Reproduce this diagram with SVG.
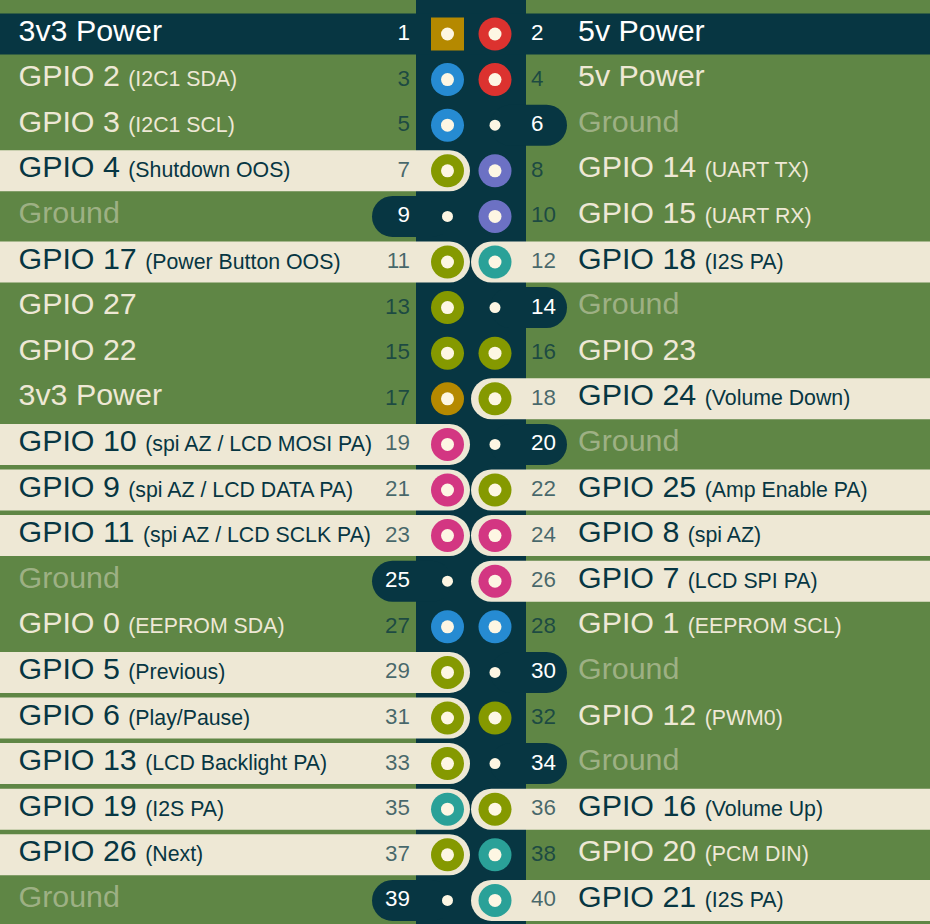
<svg xmlns="http://www.w3.org/2000/svg" width="930" height="924" viewBox="0 0 930 924">
<style>
text{font-family:"Liberation Sans",Arial,sans-serif}
.lbl{font-size:30.4px}
.sub{font-size:21.3px}
.num{font-size:22.4px}
.nl{text-anchor:end}
.bg{fill:#5f8645}
.dk{fill:#073642}
.cr{fill:#eee8d5}
.dot{fill:#fdf6e3}
.g .lbl{fill:#eee8d5}
.g .num{fill:#073642;fill-opacity:.75}
.c .lbl{fill:#073642}
.c .num{fill:#073642;fill-opacity:.72}
.d .lbl,.d .num{fill:#ffffff}
.gnd .lbl{fill:#eee8d5;fill-opacity:.45}
.gnd .num{fill:#ffffff}
.y{fill:#b58900}.r{fill:#dc322f}.b{fill:#268bd2}.v{fill:#6c71c4}.o{fill:#859900}.t{fill:#2aa198}.m{fill:#d33682}
</style>
<rect class="bg" x="0" y="0" width="930" height="924"/>
<rect class="dk" x="416" y="0" width="110" height="924"/>
<g id="connectors"></g>
<!-- Row 1 -->
<g id="pin1" class="d" transform="translate(0,34)">
<rect class="dk" x="0" y="-20.5" width="471" height="41"/>
<rect class="y" x="431" y="-16.5" width="33" height="33"/><circle class="dot" cx="447.5" r="6.5"/>
<text class="num nl" x="410" y="6">1</text>
<text class="lbl" x="18.5" y="6.5">3v3 Power</text>
</g>
<g id="pin2" class="d" transform="translate(0,34)">
<rect class="dk" x="470" y="-20.5" width="460" height="41"/>
<circle class="r" cx="495" r="16.5"/><circle class="dot" cx="495" r="6.5"/>
<text class="num" x="531" y="6">2</text>
<text class="lbl" x="578" y="6.5">5v Power</text>
</g>
<!-- Row 2 -->
<g id="pin3" class="g" transform="translate(0,79.6)">
<circle class="b" cx="447.5" r="16.5"/><circle class="dot" cx="447.5" r="6.5"/>
<text class="num nl" x="410" y="6">3</text>
<text class="lbl" x="18.5" y="6.5">GPIO 2 <tspan class="sub">(I2C1 SDA)</tspan></text>
</g>
<g id="pin4" class="g" transform="translate(0,79.6)">
<circle class="r" cx="495" r="16.5"/><circle class="dot" cx="495" r="6.5"/>
<text class="num" x="531" y="6">4</text>
<text class="lbl" x="578" y="6.5">5v Power</text>
</g>
<!-- Row 3 -->
<g id="pin5" class="g" transform="translate(0,125.2)">
<circle class="b" cx="447.5" r="16.5"/><circle class="dot" cx="447.5" r="6.5"/>
<text class="num nl" x="410" y="6">5</text>
<text class="lbl" x="18.5" y="6.5">GPIO 3 <tspan class="sub">(I2C1 SCL)</tspan></text>
</g>
<g id="pin6" class="gnd" transform="translate(0,125.2)">
<rect class="dk" x="490" y="-20.5" width="77" height="41" rx="20.5"/>
<circle class="dot" cx="495" r="5.5"/>
<text class="num" x="531" y="6">6</text>
<text class="lbl" x="578" y="6.5">Ground</text>
</g>
<!-- Row 4 -->
<g id="pin7" class="c" transform="translate(0,170.8)">
<rect class="cr" x="-30" y="-20.5" width="500" height="41" rx="20.5"/>
<circle class="o" cx="447.5" r="16.5"/><circle class="dot" cx="447.5" r="6.5"/>
<text class="num nl" x="410" y="6">7</text>
<text class="lbl" x="18.5" y="6.5">GPIO 4 <tspan class="sub">(Shutdown OOS)</tspan></text>
</g>
<g id="pin8" class="g" transform="translate(0,170.8)">
<circle class="v" cx="495" r="16.5"/><circle class="dot" cx="495" r="6.5"/>
<text class="num" x="531" y="6">8</text>
<text class="lbl" x="578" y="6.5">GPIO 14 <tspan class="sub">(UART TX)</tspan></text>
</g>
<!-- Row 5 -->
<g id="pin9" class="gnd" transform="translate(0,216.4)">
<rect class="dk" x="372" y="-20.5" width="80" height="41" rx="20.5"/>
<circle class="dot" cx="447.5" r="5.5"/>
<text class="num nl" x="410" y="6">9</text>
<text class="lbl" x="18.5" y="6.5">Ground</text>
</g>
<g id="pin10" class="g" transform="translate(0,216.4)">
<circle class="v" cx="495" r="16.5"/><circle class="dot" cx="495" r="6.5"/>
<text class="num" x="531" y="6">10</text>
<text class="lbl" x="578" y="6.5">GPIO 15 <tspan class="sub">(UART RX)</tspan></text>
</g>
<!-- Row 6 -->
<g id="pin11" class="c" transform="translate(0,262)">
<rect class="cr" x="-30" y="-20.5" width="500" height="41" rx="20.5"/>
<circle class="o" cx="447.5" r="16.5"/><circle class="dot" cx="447.5" r="6.5"/>
<text class="num nl" x="410" y="6">11</text>
<text class="lbl" x="18.5" y="6.5">GPIO 17 <tspan class="sub">(Power Button OOS)</tspan></text>
</g>
<g id="pin12" class="c" transform="translate(0,262)">
<rect class="cr" x="471" y="-20.5" width="500" height="41" rx="20.5"/>
<circle class="t" cx="495" r="16.5"/><circle class="dot" cx="495" r="6.5"/>
<text class="num" x="531" y="6">12</text>
<text class="lbl" x="578" y="6.5">GPIO 18 <tspan class="sub">(I2S PA)</tspan></text>
</g>
<!-- Row 7 -->
<g id="pin13" class="g" transform="translate(0,307.6)">
<circle class="o" cx="447.5" r="16.5"/><circle class="dot" cx="447.5" r="6.5"/>
<text class="num nl" x="410" y="6">13</text>
<text class="lbl" x="18.5" y="6.5">GPIO 27</text>
</g>
<g id="pin14" class="gnd" transform="translate(0,307.6)">
<rect class="dk" x="490" y="-20.5" width="77" height="41" rx="20.5"/>
<circle class="dot" cx="495" r="5.5"/>
<text class="num" x="531" y="6">14</text>
<text class="lbl" x="578" y="6.5">Ground</text>
</g>
<!-- Row 8 -->
<g id="pin15" class="g" transform="translate(0,353.2)">
<circle class="o" cx="447.5" r="16.5"/><circle class="dot" cx="447.5" r="6.5"/>
<text class="num nl" x="410" y="6">15</text>
<text class="lbl" x="18.5" y="6.5">GPIO 22</text>
</g>
<g id="pin16" class="g" transform="translate(0,353.2)">
<circle class="o" cx="495" r="16.5"/><circle class="dot" cx="495" r="6.5"/>
<text class="num" x="531" y="6">16</text>
<text class="lbl" x="578" y="6.5">GPIO 23</text>
</g>
<!-- Row 9 -->
<g id="pin17" class="g" transform="translate(0,398.8)">
<circle class="y" cx="447.5" r="16.5"/><circle class="dot" cx="447.5" r="6.5"/>
<text class="num nl" x="410" y="6">17</text>
<text class="lbl" x="18.5" y="6.5">3v3 Power</text>
</g>
<g id="pin18" class="c" transform="translate(0,398.8)">
<rect class="cr" x="471" y="-20.5" width="500" height="41" rx="20.5"/>
<circle class="o" cx="495" r="16.5"/><circle class="dot" cx="495" r="6.5"/>
<text class="num" x="531" y="6">18</text>
<text class="lbl" x="578" y="6.5">GPIO 24 <tspan class="sub">(Volume Down)</tspan></text>
</g>
<!-- Row 10 -->
<g id="pin19" class="c" transform="translate(0,444.4)">
<rect class="cr" x="-30" y="-20.5" width="500" height="41" rx="20.5"/>
<circle class="m" cx="447.5" r="16.5"/><circle class="dot" cx="447.5" r="6.5"/>
<text class="num nl" x="410" y="6">19</text>
<text class="lbl" x="18.5" y="6.5">GPIO 10 <tspan class="sub">(spi AZ / LCD MOSI PA)</tspan></text>
</g>
<g id="pin20" class="gnd" transform="translate(0,444.4)">
<rect class="dk" x="490" y="-20.5" width="77" height="41" rx="20.5"/>
<circle class="dot" cx="495" r="5.5"/>
<text class="num" x="531" y="6">20</text>
<text class="lbl" x="578" y="6.5">Ground</text>
</g>
<!-- Row 11 -->
<g id="pin21" class="c" transform="translate(0,490)">
<rect class="cr" x="-30" y="-20.5" width="500" height="41" rx="20.5"/>
<circle class="m" cx="447.5" r="16.5"/><circle class="dot" cx="447.5" r="6.5"/>
<text class="num nl" x="410" y="6">21</text>
<text class="lbl" x="18.5" y="6.5">GPIO 9 <tspan class="sub">(spi AZ / LCD DATA PA)</tspan></text>
</g>
<g id="pin22" class="c" transform="translate(0,490)">
<rect class="cr" x="471" y="-20.5" width="500" height="41" rx="20.5"/>
<circle class="o" cx="495" r="16.5"/><circle class="dot" cx="495" r="6.5"/>
<text class="num" x="531" y="6">22</text>
<text class="lbl" x="578" y="6.5">GPIO 25 <tspan class="sub">(Amp Enable PA)</tspan></text>
</g>
<!-- Row 12 -->
<g id="pin23" class="c" transform="translate(0,535.6)">
<rect class="cr" x="-30" y="-20.5" width="500" height="41" rx="20.5"/>
<circle class="m" cx="447.5" r="16.5"/><circle class="dot" cx="447.5" r="6.5"/>
<text class="num nl" x="410" y="6">23</text>
<text class="lbl" x="18.5" y="6.5">GPIO 11 <tspan class="sub">(spi AZ / LCD SCLK PA)</tspan></text>
</g>
<g id="pin24" class="c" transform="translate(0,535.6)">
<rect class="cr" x="471" y="-20.5" width="500" height="41" rx="20.5"/>
<circle class="m" cx="495" r="16.5"/><circle class="dot" cx="495" r="6.5"/>
<text class="num" x="531" y="6">24</text>
<text class="lbl" x="578" y="6.5">GPIO 8 <tspan class="sub">(spi AZ)</tspan></text>
</g>
<!-- Row 13 -->
<g id="pin25" class="gnd" transform="translate(0,581.2)">
<rect class="dk" x="372" y="-20.5" width="80" height="41" rx="20.5"/>
<circle class="dot" cx="447.5" r="5.5"/>
<text class="num nl" x="410" y="6">25</text>
<text class="lbl" x="18.5" y="6.5">Ground</text>
</g>
<g id="pin26" class="c" transform="translate(0,581.2)">
<rect class="cr" x="471" y="-20.5" width="500" height="41" rx="20.5"/>
<circle class="m" cx="495" r="16.5"/><circle class="dot" cx="495" r="6.5"/>
<text class="num" x="531" y="6">26</text>
<text class="lbl" x="578" y="6.5">GPIO 7 <tspan class="sub">(LCD SPI PA)</tspan></text>
</g>
<!-- Row 14 -->
<g id="pin27" class="g" transform="translate(0,626.8)">
<circle class="b" cx="447.5" r="16.5"/><circle class="dot" cx="447.5" r="6.5"/>
<text class="num nl" x="410" y="6">27</text>
<text class="lbl" x="18.5" y="6.5">GPIO 0 <tspan class="sub">(EEPROM SDA)</tspan></text>
</g>
<g id="pin28" class="g" transform="translate(0,626.8)">
<circle class="b" cx="495" r="16.5"/><circle class="dot" cx="495" r="6.5"/>
<text class="num" x="531" y="6">28</text>
<text class="lbl" x="578" y="6.5">GPIO 1 <tspan class="sub">(EEPROM SCL)</tspan></text>
</g>
<!-- Row 15 -->
<g id="pin29" class="c" transform="translate(0,672.4)">
<rect class="cr" x="-30" y="-20.5" width="500" height="41" rx="20.5"/>
<circle class="o" cx="447.5" r="16.5"/><circle class="dot" cx="447.5" r="6.5"/>
<text class="num nl" x="410" y="6">29</text>
<text class="lbl" x="18.5" y="6.5">GPIO 5 <tspan class="sub">(Previous)</tspan></text>
</g>
<g id="pin30" class="gnd" transform="translate(0,672.4)">
<rect class="dk" x="490" y="-20.5" width="77" height="41" rx="20.5"/>
<circle class="dot" cx="495" r="5.5"/>
<text class="num" x="531" y="6">30</text>
<text class="lbl" x="578" y="6.5">Ground</text>
</g>
<!-- Row 16 -->
<g id="pin31" class="c" transform="translate(0,718)">
<rect class="cr" x="-30" y="-20.5" width="500" height="41" rx="20.5"/>
<circle class="o" cx="447.5" r="16.5"/><circle class="dot" cx="447.5" r="6.5"/>
<text class="num nl" x="410" y="6">31</text>
<text class="lbl" x="18.5" y="6.5">GPIO 6 <tspan class="sub">(Play/Pause)</tspan></text>
</g>
<g id="pin32" class="g" transform="translate(0,718)">
<circle class="o" cx="495" r="16.5"/><circle class="dot" cx="495" r="6.5"/>
<text class="num" x="531" y="6">32</text>
<text class="lbl" x="578" y="6.5">GPIO 12 <tspan class="sub">(PWM0)</tspan></text>
</g>
<!-- Row 17 -->
<g id="pin33" class="c" transform="translate(0,763.6)">
<rect class="cr" x="-30" y="-20.5" width="500" height="41" rx="20.5"/>
<circle class="o" cx="447.5" r="16.5"/><circle class="dot" cx="447.5" r="6.5"/>
<text class="num nl" x="410" y="6">33</text>
<text class="lbl" x="18.5" y="6.5">GPIO 13 <tspan class="sub">(LCD Backlight PA)</tspan></text>
</g>
<g id="pin34" class="gnd" transform="translate(0,763.6)">
<rect class="dk" x="490" y="-20.5" width="77" height="41" rx="20.5"/>
<circle class="dot" cx="495" r="5.5"/>
<text class="num" x="531" y="6">34</text>
<text class="lbl" x="578" y="6.5">Ground</text>
</g>
<!-- Row 18 -->
<g id="pin35" class="c" transform="translate(0,809.2)">
<rect class="cr" x="-30" y="-20.5" width="500" height="41" rx="20.5"/>
<circle class="t" cx="447.5" r="16.5"/><circle class="dot" cx="447.5" r="6.5"/>
<text class="num nl" x="410" y="6">35</text>
<text class="lbl" x="18.5" y="6.5">GPIO 19 <tspan class="sub">(I2S PA)</tspan></text>
</g>
<g id="pin36" class="c" transform="translate(0,809.2)">
<rect class="cr" x="471" y="-20.5" width="500" height="41" rx="20.5"/>
<circle class="o" cx="495" r="16.5"/><circle class="dot" cx="495" r="6.5"/>
<text class="num" x="531" y="6">36</text>
<text class="lbl" x="578" y="6.5">GPIO 16 <tspan class="sub">(Volume Up)</tspan></text>
</g>
<!-- Row 19 -->
<g id="pin37" class="c" transform="translate(0,854.8)">
<rect class="cr" x="-30" y="-20.5" width="500" height="41" rx="20.5"/>
<circle class="o" cx="447.5" r="16.5"/><circle class="dot" cx="447.5" r="6.5"/>
<text class="num nl" x="410" y="6">37</text>
<text class="lbl" x="18.5" y="6.5">GPIO 26 <tspan class="sub">(Next)</tspan></text>
</g>
<g id="pin38" class="g" transform="translate(0,854.8)">
<circle class="t" cx="495" r="16.5"/><circle class="dot" cx="495" r="6.5"/>
<text class="num" x="531" y="6">38</text>
<text class="lbl" x="578" y="6.5">GPIO 20 <tspan class="sub">(PCM DIN)</tspan></text>
</g>
<!-- Row 20 -->
<g id="pin39" class="gnd" transform="translate(0,900.4)">
<rect class="dk" x="372" y="-20.5" width="80" height="41" rx="20.5"/>
<circle class="dot" cx="447.5" r="5.5"/>
<text class="num nl" x="410" y="6">39</text>
<text class="lbl" x="18.5" y="6.5">Ground</text>
</g>
<g id="pin40" class="c" transform="translate(0,900.4)">
<rect class="cr" x="471" y="-20.5" width="500" height="41" rx="20.5"/>
<circle class="t" cx="495" r="16.5"/><circle class="dot" cx="495" r="6.5"/>
<text class="num" x="531" y="6">40</text>
<text class="lbl" x="578" y="6.5">GPIO 21 <tspan class="sub">(I2S PA)</tspan></text>
</g>
</svg>
